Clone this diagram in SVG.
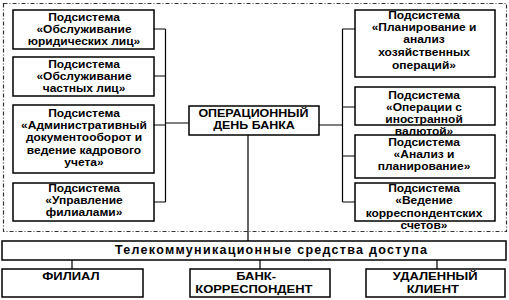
<svg xmlns="http://www.w3.org/2000/svg" width="509" height="300" viewBox="0 0 509 300">
<style>
.box{fill:#fff;stroke:#000;stroke-width:1.5}
.t{font-family:"Liberation Sans",Arial,sans-serif;font-weight:bold;font-size:10.3px;text-anchor:middle;fill:#000}
.tc{font-family:"Liberation Sans",Arial,sans-serif;font-weight:bold;font-size:10.3px;text-anchor:middle;fill:#000}
.tb{font-family:"Liberation Sans",Arial,sans-serif;font-weight:bold;font-size:11px;text-anchor:middle;fill:#000}
.tt{font-family:"Liberation Sans",Arial,sans-serif;font-weight:bold;font-size:12.5px;text-anchor:middle;fill:#000}
.c{fill:none;stroke:#000;stroke-width:1.2}
.frame{fill:none;stroke:#333;stroke-width:1.2;stroke-dasharray:4 2 1 2}
</style>
<rect class="frame" x="3.5" y="3.5" width="503" height="228"/>
<g id="connectors">
<path class="c" d="M165.5,29V202M154,29H165.5M154,76H165.5M154,125H165.5M154,202H165.5M165.5,123H189"/>
<path class="c" d="M342.5,29V202M342.5,29H355M342.5,107H355M342.5,156H355M342.5,202H355M319,125H342.5"/>
<path class="c" d="M248,135V241M72,260V269M260,260V269M437,260V270"/>
</g>
<g id="l1"><rect class="box" x="13" y="10" width="141" height="39"/>
<text class="t" transform="matrix(1.165 0 0 1 84 0)"><tspan x="0" y="21">Подсистема</tspan><tspan x="0" y="33">«Обслуживание</tspan><tspan x="0" y="45">юридических лиц»</tspan></text></g>
<g id="l2"><rect class="box" x="13" y="57" width="141" height="39"/>
<text class="t" transform="matrix(1.165 0 0 1 84 0)"><tspan x="0" y="68">Подсистема</tspan><tspan x="0" y="80">«Обслуживание</tspan><tspan x="0" y="92">частных лиц»</tspan></text></g>
<g id="l3"><rect class="box" x="13" y="105" width="141" height="68"/>
<text class="t" transform="matrix(1.165 0 0 1 84 0)"><tspan x="0" y="117">Подсистема</tspan><tspan x="0" y="129">«Административный</tspan><tspan x="0" y="141">документооборот и</tspan><tspan x="0" y="154">ведение кадрового</tspan><tspan x="0" y="166">учета»</tspan></text></g>
<g id="l4"><rect class="box" x="13" y="183" width="141" height="38"/>
<text class="t" transform="matrix(1.165 0 0 1 84 0)"><tspan x="0" y="192">Подсистема</tspan><tspan x="0" y="204">«Управление</tspan><tspan x="0" y="216">филиалами»</tspan></text></g>
<g id="center"><rect class="box" x="189" y="106" width="130" height="29"/>
<text class="tc" transform="matrix(1.21 0 0 1 254 0)"><tspan x="-0.5" y="117">ОПЕРАЦИОННЫЙ</tspan><tspan x="0" y="129">ДЕНЬ БАНКА</tspan></text></g>
<g id="r1"><rect class="box" x="355" y="10" width="140" height="67"/>
<text class="t" transform="matrix(1.165 0 0 1 424 0)"><tspan x="0" y="19">Подсистема</tspan><tspan x="0" y="31">«Планирование и</tspan><tspan x="0" y="43">анализ</tspan><tspan x="0" y="56">хозяйственных</tspan><tspan x="0" y="69">операций»</tspan></text></g>
<g id="r2"><rect class="box" x="355" y="87" width="140" height="38"/>
<text class="t" transform="matrix(1.165 0 0 1 424 0)"><tspan x="0" y="99">Подсистема</tspan><tspan x="0" y="111">«Операции с</tspan><tspan x="0" y="123">иностранной</tspan><tspan x="0" y="135">валютой»</tspan></text></g>
<g id="r3"><rect class="box" x="355" y="135" width="140" height="43"/>
<text class="t" transform="matrix(1.165 0 0 1 424 0)"><tspan x="0" y="146">Подсистема</tspan><tspan x="0" y="158">«Анализ и</tspan><tspan x="0" y="170">планирование»</tspan></text></g>
<g id="r4"><rect class="box" x="355" y="183" width="140" height="38"/>
<text class="t" transform="matrix(1.165 0 0 1 424 0)"><tspan x="0" y="192">Подсистема</tspan><tspan x="0" y="204">«Ведение</tspan><tspan x="0" y="217">корреспондентских</tspan><tspan x="0" y="229">счетов»</tspan></text></g>
<g id="telecom"><rect class="box" x="2" y="241" width="504" height="19"/>
<text class="tt" x="271" y="254" textLength="312" lengthAdjust="spacing">Телекоммуникационные средства доступа</text></g>
<g id="filial"><rect class="box" x="2" y="269" width="141" height="28"/>
<text class="tb" transform="matrix(1.18 0 0 1 71 0)"><tspan x="0" y="280">ФИЛИАЛ</tspan></text></g>
<g id="bank"><rect class="box" x="190" y="269" width="140" height="28"/>
<text class="tb" transform="matrix(1.18 0 0 1 255 0)"><tspan x="1" y="280">БАНК-</tspan><tspan x="-1" y="293">КОРРЕСПОНДЕНТ</tspan></text></g>
<g id="client"><rect class="box" x="366" y="269" width="139" height="28"/>
<text class="tb" transform="matrix(1.18 0 0 1 434 0)"><tspan x="1" y="280">УДАЛЕННЫЙ</tspan><tspan x="-1" y="293">КЛИЕНТ</tspan></text></g>
</svg>
